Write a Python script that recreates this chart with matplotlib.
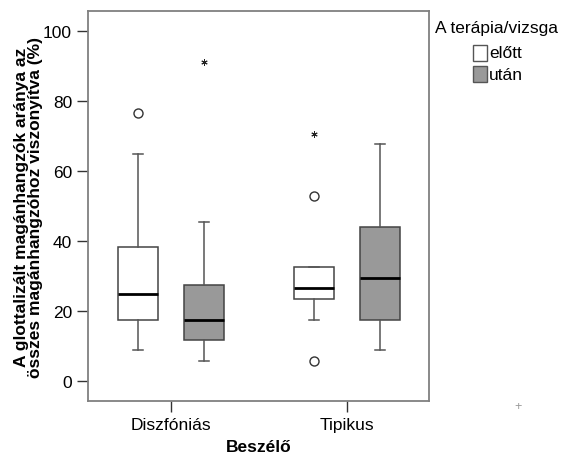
import matplotlib.pyplot as plt
from matplotlib.patches import Rectangle

plt.rcParams['font.family'] = ['Liberation Sans', 'DejaVu Sans']

# csoportok es boxplot statisztikak (ertekek a kepbol leolvasva)
groups = ['Diszfóniás', 'Tipikus']
series = ['előtt', 'után']

whislo = [9.0, 5.6, 17.5, 9.0]
q1 = [17.5, 11.8, 23.4, 17.5]
med = [24.9, 17.5, 26.5, 29.4]
q3 = [38.2, 27.3, 32.5, 44.1]
whishi = [64.8, 45.5, 32.5, 67.6]
outliers = [[76.6], [], [52.9, 5.8], []]      # korok
extremes = [[], [91.0], [70.6], []]           # csillagok

series_colors = ['white', '#999999']
fill_colors = series_colors * 2
positions = [-0.187, 0.187, 0.813, 1.187]

W, H = 563, 456
fig = plt.figure(figsize=(W / 100, H / 100), dpi=100)
ax = fig.add_axes([88 / W, 1 - 402 / H, (429 - 88) / W, (402 - 12) / H])

stats = []
for i in range(4):
    stats.append({'whislo': whislo[i], 'q1': q1[i], 'med': med[i],
                  'q3': q3[i], 'whishi': whishi[i], 'fliers': outliers[i]})

bp = ax.bxp(stats, positions=positions, widths=0.226, capwidths=0.057,
            patch_artist=True, manage_ticks=False,
            boxprops=dict(edgecolor='#444444', linewidth=1.1),
            whiskerprops=dict(color='#555555', linewidth=1.1),
            capprops=dict(color='#555555', linewidth=1.1),
            medianprops=dict(color='black', linewidth=2),
            flierprops=dict(marker='o', markersize=6.5, markerfacecolor='none',
                            markeredgecolor='#333333', markeredgewidth=1))
for patch, c in zip(bp['boxes'], fill_colors):
    patch.set_facecolor(c)

for pos, ext in zip(positions, extremes):
    if ext:
        ax.plot([pos] * len(ext), ext, linestyle='none', marker=(6, 2, 0),
                markersize=4.5, color='#222222', markeredgewidth=0.7)

ax.set_xlim(-0.468, 1.463)
ax.set_ylim(-5.7, 105.7)
ax.set_xticks([0, 1])
ax.set_xticklabels(groups)
ax.set_yticks([0, 20, 40, 60, 80, 100])
ax.tick_params(axis='both', labelsize=12.5, length=8, width=1, color='#333333')
for s in ax.spines.values():
    s.set_color('#808080')
    s.set_linewidth(1.3)

ax.set_xlabel('Beszélő', fontsize=12.5, fontweight='bold', labelpad=5)
ax.set_ylabel('A glottalizált magánhangzók aránya az\nösszes magánhangzóhoz viszonyítva (%)',
              fontsize=12.5, fontweight='bold', linespacing=0.9, labelpad=0)

# jelmagyarazat kezzel
fig.text(435 / W, 1 - 29 / H, 'A terápia/vizsga', fontsize=12.5, ha='left', va='center')
for k, (lab, c) in enumerate(zip(series, series_colors)):
    yc = 54 + k * 21
    fig.patches.append(Rectangle((473 / W, 1 - (yc + 8) / H), 14 / W, 16 / H,
                                 transform=fig.transFigure, facecolor=c,
                                 edgecolor='#555555', linewidth=1))
    fig.text(489 / W, 1 - yc / H, lab, fontsize=12.5, ha='left', va='center')

fig.text(518 / W, 1 - 407 / H, '+', color='#999999', fontsize=9,
         ha='center', va='center')

fig.savefig('out.png', dpi=100)
